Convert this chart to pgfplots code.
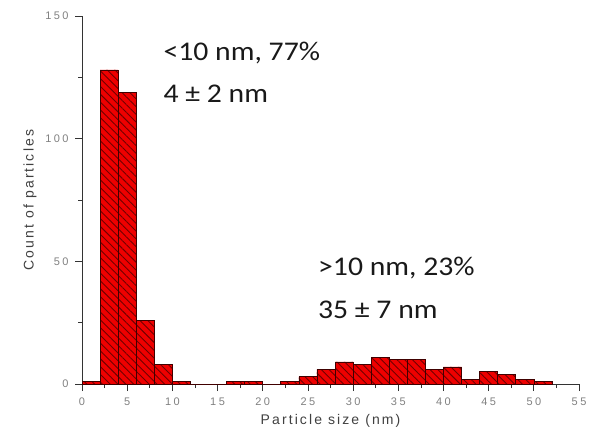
\documentclass[border=0pt]{standalone}
\usepackage{pgfplots}
\pgfplotsset{compat=1.18}
\usepackage{fontspec}
\setmainfont{Carlito}
\newfontfamily\tickfont[LetterSpace=22]{Liberation Sans}
\newfontfamily\labfont[LetterSpace=15]{Liberation Sans}
\usetikzlibrary{patterns,patterns.meta}
\definecolor{barred}{HTML}{EE0000}
\definecolor{edgec}{HTML}{400000}
\definecolor{hatchc}{HTML}{700000}
\definecolor{tickgray}{HTML}{808080}
\definecolor{labgray}{HTML}{404040}
\definecolor{axisgray}{HTML}{333333}
\begin{document}
\begin{tikzpicture}
\begin{axis}[
  scale only axis, width=497pt, height=368pt,
  xmin=0, xmax=55, ymin=0, ymax=150,
  axis x line=bottom, axis y line=left,
  axis line style={-, axisgray, line width=0.8pt},
  xtick={0,5,...,55}, ytick={0,50,100,150},
  minor x tick num=1, minor y tick num=1,
  tick align=outside,
  major tick length=7pt, minor tick length=4pt,
  tick style={axisgray, line width=0.8pt},
  /pgf/number format/assume math mode=true,
  ticklabel style={font=\fontsize{11}{13}\selectfont\tickfont, text=tickgray},
  xticklabel style={yshift=-3pt},
  yticklabel style={xshift=-3pt},
  xlabel={\labfont Particle size (nm)},
  ylabel={\labfont Count of particles},
  label style={font=\fontsize{14}{16}\selectfont, text=labgray},
  xlabel style={yshift=-2pt},
  ylabel style={yshift=2pt},
  clip=false,
]
\addplot[ybar interval, fill=barred, draw=edgec, line width=0.7pt,
  postaction={pattern={Lines[angle=-45, distance=5.5pt, line width=0.9pt]}, pattern color=hatchc}]
coordinates {
(0,1) (2,128) (4,119) (6,26) (8,8) (10,1) (12,0) (14,0) (16,1) (18,1)
(20,0) (22,1) (24,3) (26,6) (28,9) (30,8) (32,11) (34,10) (36,10) (38,6)
(40,7) (42,2) (44,5) (46,4) (48,2) (50,1) (52,0)
};
\node[anchor=west, font=\fontsize{27}{32}\selectfont, text=black!90, xscale=1.1]
  at (axis cs:8.6,135) {<10 nm, 77\%};
\node[anchor=west, font=\fontsize{27}{32}\selectfont, text=black!90, xscale=1.1]
  at (axis cs:8.6,118.5) {4 ± 2 nm};
\node[anchor=west, font=\fontsize{27}{32}\selectfont, text=black!90, xscale=1.1]
  at (axis cs:25.7,47.3) {>10 nm, 23\%};
\node[anchor=west, font=\fontsize{27}{32}\selectfont, text=black!90, xscale=1.1]
  at (axis cs:25.7,30.2) {35 ± 7 nm};
\path[use as bounding box] (rel axis cs:-0.165,-0.1658) rectangle (rel axis cs:1.024,1.0435);
\end{axis}
\end{tikzpicture}
\end{document}
